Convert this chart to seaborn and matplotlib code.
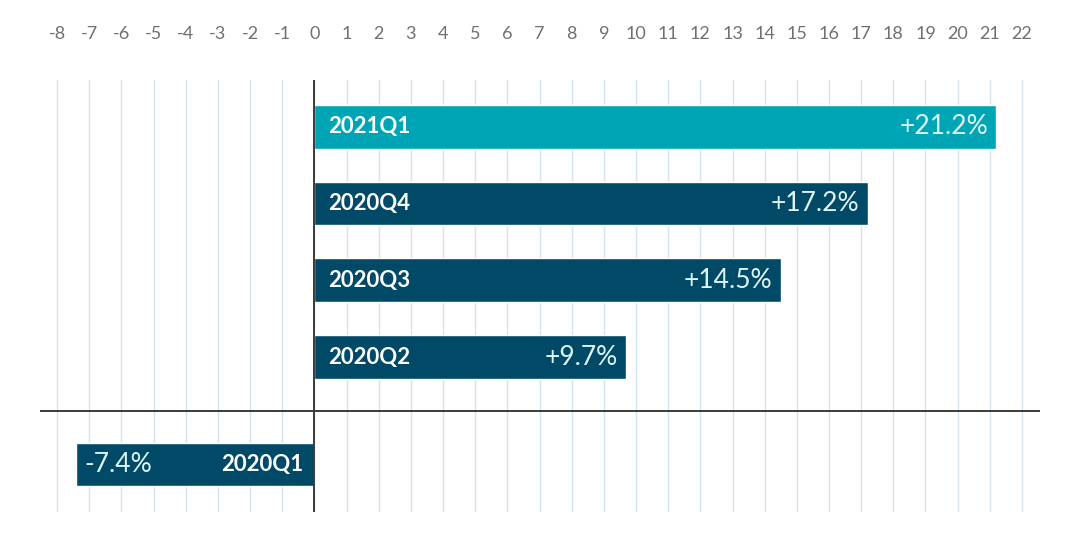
import numpy as np
import pandas as pd
import matplotlib
matplotlib.use("Agg")
import matplotlib.pyplot as plt
import seaborn as sns

# Data
quarters = ["2021Q1", "2020Q4", "2020Q3", "2020Q2", "2020Q1"]
growth = [21.2, 17.2, 14.5, 9.7, -7.4]
tick_values = list(range(-8, 23))

# Colours
teal = "#00a5b5"
navy = "#004a68"
palette = {q: (teal if i == 0 else navy) for i, q in enumerate(quarters)}

sns.set_theme(style="white")
plt.rcParams["font.family"] = ["Lato", "DejaVu Sans"]
plt.rcParams["axes.unicode_minus"] = False

df = pd.DataFrame({"quarter": quarters, "growth": growth})
# negative quarter is pushed down a little, past the zero line
df["pos"] = np.arange(len(df)) + (df["growth"] < 0) * 0.4

fig = plt.figure(figsize=(10.8, 5.38), dpi=100)
ax = fig.add_axes([40 / 1080, 1 - 512 / 538, 1000 / 1080, 432 / 538])

sns.barplot(data=df, x="growth", y="pos", hue="quarter", palette=palette,
            orient="h", native_scale=True, width=0.57, errorbar=None,
            legend=False, saturation=1, ax=ax)

ax.set_xlim(-8.53, 22.56)
ax.set_ylim(df["pos"].max() + 0.62, -0.61)

# grid + axes lines
ax.set_axisbelow(True)
ax.set_xticks(tick_values)
ax.grid(axis="x", color="#d4e5eb", lw=1.0)
ax.grid(axis="y", visible=False)
ax.axvline(0, color="#3a3a3a", lw=1.4, zorder=3)
neg_start = df.loc[df["growth"] < 0, "pos"].min()
ax.axhline((neg_start + df.loc[df["growth"] >= 0, "pos"].max()) / 2,
           color="#3a3a3a", lw=1.4, zorder=3)

ax.xaxis.tick_top()
ax.tick_params(axis="x", length=0, pad=27, labelsize=13, labelcolor="#707070")
ax.set_yticks([])
ax.set_xlabel("")
ax.set_ylabel("")
for s in ax.spines.values():
    s.set_visible(False)

# labels inside the bars
for _, row in df.iterrows():
    v, y = row["growth"], row["pos"]
    val_txt = f"{v:+.1f}%"
    if v >= 0:
        ax.annotate(row["quarter"], (0, y), xytext=(10, 0), textcoords="offset points",
                    ha="left", va="center", color="white", fontsize=16, fontweight="bold")
        ax.annotate(val_txt, (v, y), xytext=(-6, 0), textcoords="offset points",
                    ha="right", va="center", color="#dff4f7", fontsize=19)
    else:
        ax.annotate(row["quarter"], (0, y), xytext=(-8, 0), textcoords="offset points",
                    ha="right", va="center", color="white", fontsize=16, fontweight="bold")
        ax.annotate(val_txt, (v, y), xytext=(6, 0), textcoords="offset points",
                    ha="left", va="center", color="#dff4f7", fontsize=19)

fig.savefig("out.png", dpi=100, facecolor="white")
